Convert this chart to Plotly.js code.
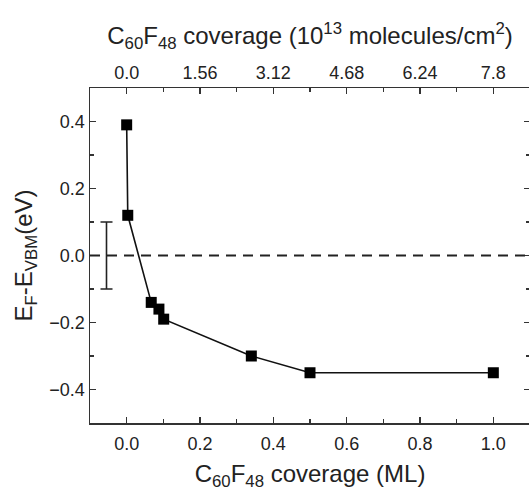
<!DOCTYPE html>
<html><head><meta charset="utf-8">
<script src="https://cdn.plot.ly/plotly-3.0.1.min.js"></script>
<style>html,body{margin:0;padding:0;overflow:hidden;background:#fff}</style>
</head><body><div id="chart" style="width:530px;height:491px"></div>
<script>
const coverageML = [0, 0.003, 0.067, 0.088, 0.101, 0.34, 0.5, 1.0];
const energyEV = [0.39, 0.12, -0.14, -0.16, -0.19, -0.30, -0.35, -0.35];
const energyErr = [0.012, 0.012, 0.012, 0.012, 0.012, 0.012, 0.012, 0.012];
const refBarX = [-0.055];
const refBarY = [0];
const refBarErr = [0.1];
const topTickVals = [0, 0.2, 0.4, 0.6, 0.8, 1.0];
const topTickText = ['0.0', '1.56', '3.12', '4.68', '6.24', '7.8'];

const FONT = 'Arial, "Liberation Sans", sans-serif';
const data = [
  {x: refBarX, y: refBarY, type: 'scatter', mode: 'markers',
   marker: {size: 1, opacity: 0},
   error_y: {type: 'data', array: refBarErr, visible: true, color: '#222', thickness: 1.6, width: 6},
   hoverinfo: 'skip', showlegend: false},
  {x: coverageML, y: energyEV, type: 'scatter', mode: 'lines+markers',
   line: {color: '#111', width: 1.6},
   marker: {symbol: 'square', size: 11, color: '#000'},
   error_y: {type: 'data', array: energyErr, visible: true, color: '#999', thickness: 1, width: 4},
   showlegend: false},
  {x: topTickVals, y: topTickVals.map(() => 0), xaxis: 'x2', type: 'scatter', mode: 'markers',
   marker: {opacity: 0}, hoverinfo: 'skip', showlegend: false}
];
const axBase = {
  showgrid: false, zeroline: false, showline: true, linecolor: '#333', linewidth: 1.5,
  ticks: 'inside', ticklen: 6, tickwidth: 1.3, tickcolor: '#333',
  tickfont: {family: FONT, size: 18, color: '#222'}
};
const layout = {
  width: 530, height: 491,
  margin: {l: 90, r: 0, t: 88, b: 68},
  paper_bgcolor: '#fff', plot_bgcolor: '#fff',
  font: {family: FONT, color: '#222'},
  xaxis: Object.assign({}, axBase, {
    range: [-0.1, 1.1], dtick: 0.2, tick0: 0, tickformat: '.1f', mirror: true,
    ticklabelstandoff: 4,
    minor: {ticks: 'inside', ticklen: 4, dtick: 0.1, tick0: 0, tickcolor: '#333'},
    title: {text: 'C<sub>60</sub>F<sub>48</sub> coverage (ML)', font: {family: FONT, size: 24, color: '#222'}, standoff: 18}
  }),
  xaxis2: Object.assign({}, axBase, {
    overlaying: 'x', side: 'top', anchor: 'y', range: [-0.1, 1.1],
    tickmode: 'array', tickvals: topTickVals, ticktext: topTickText,
    minor: {ticks: 'inside', ticklen: 4, dtick: 0.1, tick0: 0, tickcolor: '#333'},
    title: {text: 'C<sub>60</sub>F<sub>48</sub> coverage (10<sup>13</sup> molecules/cm<sup>2</sup>)', font: {family: FONT, size: 24, color: '#222'}, standoff: 12}
  }),
  yaxis: Object.assign({}, axBase, {
    range: [-0.5, 0.5], dtick: 0.2, tick0: 0, tickformat: '.1f', mirror: 'ticks',
    minor: {ticks: 'inside', ticklen: 4, dtick: 0.1, tick0: 0, tickcolor: '#333'},
    title: {text: 'E<sub>F</sub>-E<sub>VBM</sub>(eV)', font: {family: FONT, size: 24, color: '#222'}, standoff: 10}
  }),
  shapes: [{type: 'line', xref: 'paper', yref: 'y', x0: 0, x1: 1, y0: 0, y1: 0,
            line: {color: '#222', width: 2, dash: '10px,7px'}}]
};
Plotly.newPlot('chart', data, layout, {displayModeBar: false, staticPlot: true});
</script></body></html>
